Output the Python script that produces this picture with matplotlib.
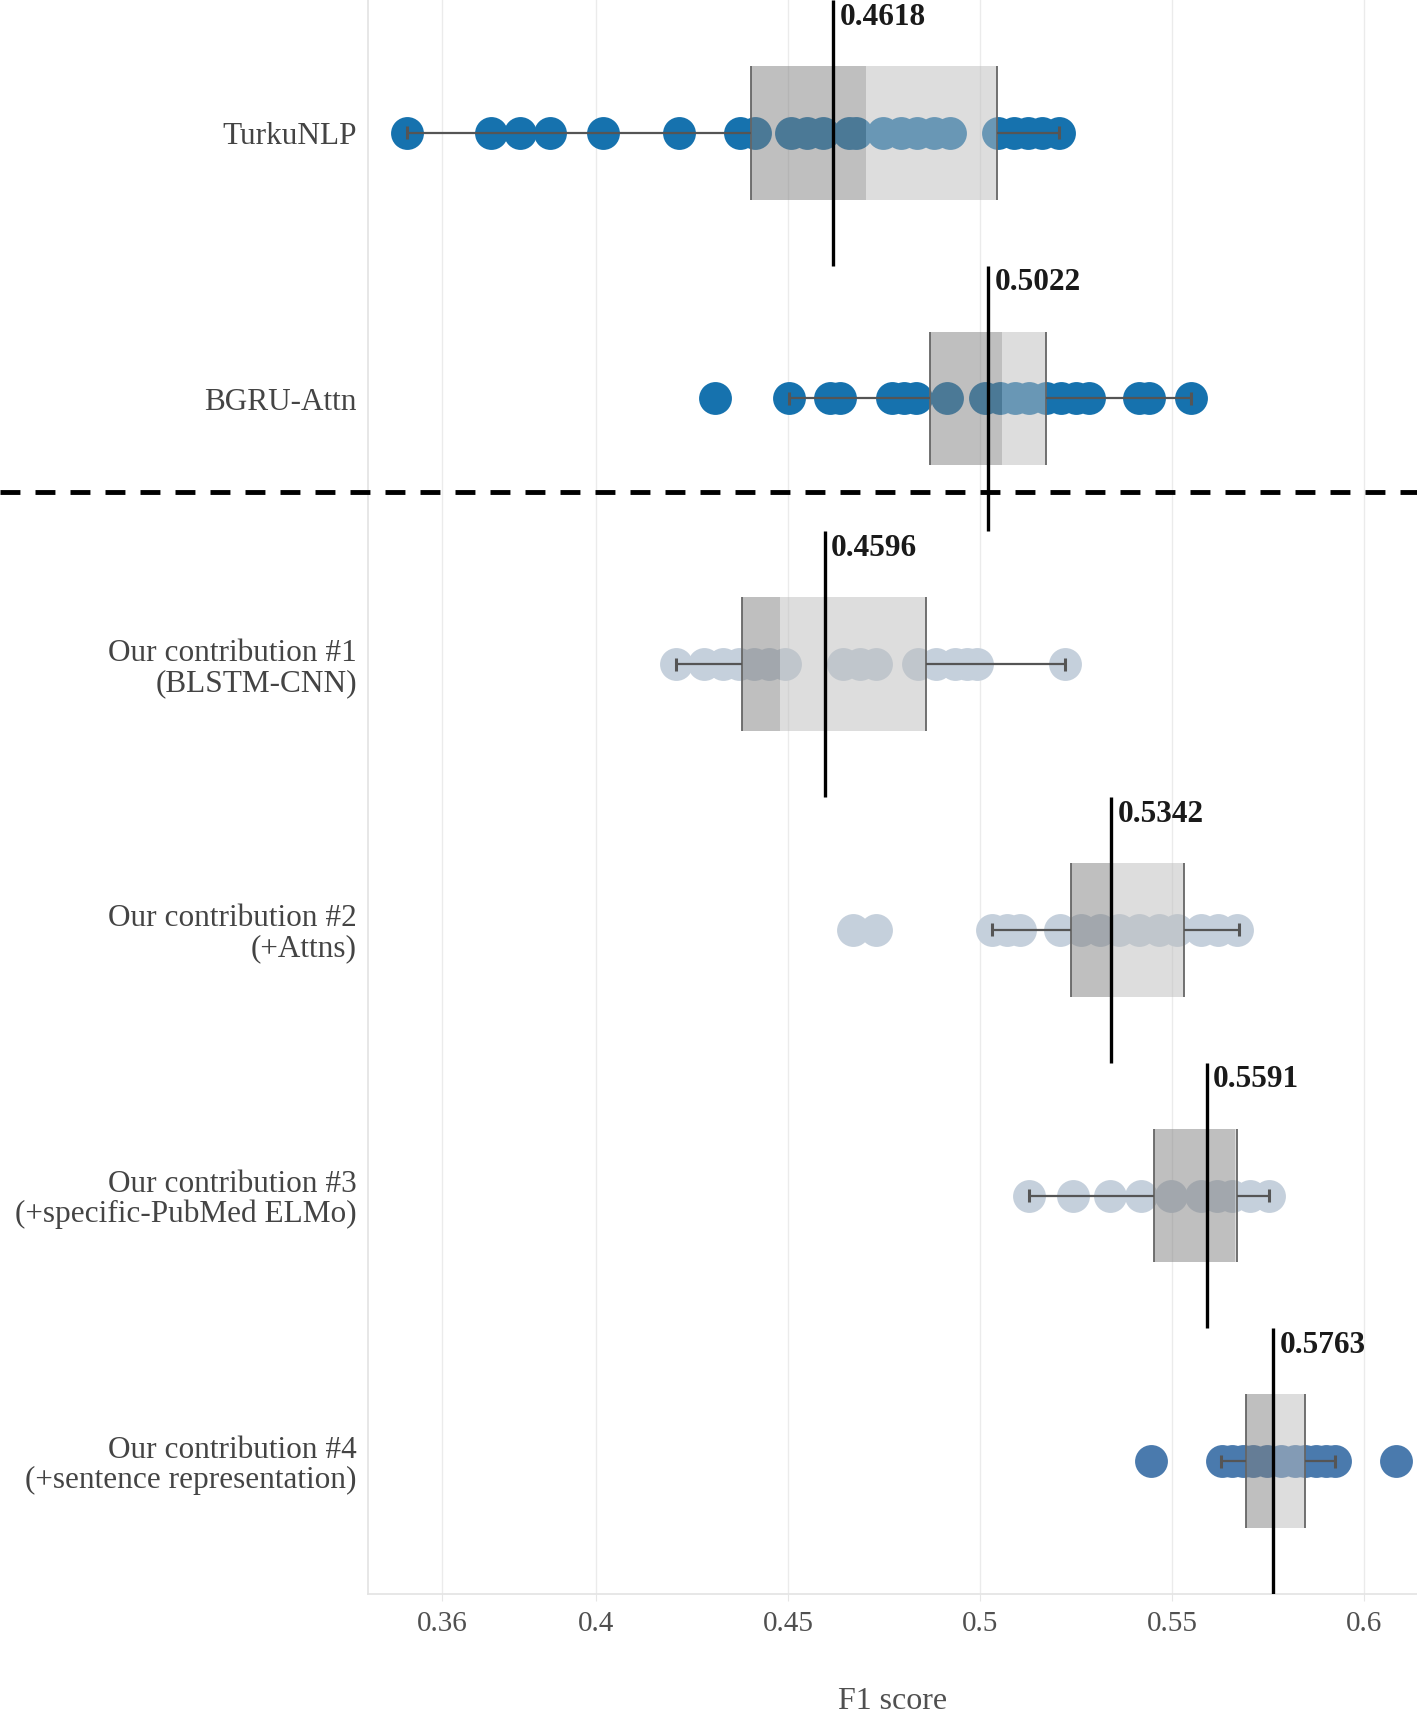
import matplotlib
matplotlib.use("Agg")
import matplotlib.pyplot as plt
from matplotlib.lines import Line2D

# model names (y categories, top to bottom)
models = [
    "TurkuNLP",
    "BGRU-Attn",
    "Our contribution #1\n(BLSTM-CNN)",
    "Our contribution #2\n(+Attns)",
    "Our contribution #3\n(+specific-PubMed ELMo)",
    "Our contribution #4\n(+sentence representation)",
]

# reported F1 (black line + label)
reported = [0.4618, 0.5022, 0.4596, 0.5342, 0.5591, 0.5763]

# individual runs
turku_runs = [0.3507, 0.3727, 0.3801, 0.3881, 0.4017, 0.4216, 0.4374, 0.4415,
              0.4508, 0.4550, 0.4592, 0.4658, 0.4676, 0.4747, 0.4795, 0.4837,
              0.4879, 0.4921, 0.5047, 0.5089, 0.5126, 0.5162, 0.5205]
bgru_runs = [0.4309, 0.4502, 0.4610, 0.4635, 0.4770, 0.4802, 0.4832, 0.4914,
             0.5013, 0.5052, 0.5092, 0.5127, 0.5171, 0.5210, 0.5250, 0.5285,
             0.5413, 0.5439, 0.5550]
blstm_runs = [0.4209, 0.4280, 0.4331, 0.4373, 0.4411, 0.4450, 0.4492, 0.4644,
              0.4687, 0.4730, 0.4839, 0.4886, 0.4934, 0.4965, 0.4991, 0.5220]
attns_runs = [0.4668, 0.4730, 0.5030, 0.5070, 0.5105, 0.5207, 0.5264, 0.5312,
              0.5361, 0.5414, 0.5467, 0.5512, 0.5575, 0.5620, 0.5670]
elmo_runs = [0.5127, 0.5243, 0.5339, 0.5418, 0.5498, 0.5575, 0.5616, 0.5657,
             0.5702, 0.5752]
sent_runs = [0.5445, 0.5629, 0.5657, 0.5684, 0.5711, 0.5747, 0.5784, 0.5820,
             0.5847, 0.5874, 0.5901, 0.5924, 0.6084]
runs = [turku_runs, bgru_runs, blstm_runs, attns_runs, elmo_runs, sent_runs]

# box statistics as drawn in the figure
q1 = [0.4404, 0.4869, 0.4380, 0.5238, 0.5453, 0.5693]
q2 = [0.4703, 0.5057, 0.4479, 0.5345, 0.5664, 0.5766]
q3 = [0.5043, 0.5171, 0.4860, 0.5530, 0.5669, 0.5847]
whisker_lo = [0.3507, 0.4502, 0.4209, 0.5030, 0.5127, 0.5627]
whisker_hi = [0.5205, 0.5550, 0.5220, 0.5675, 0.5752, 0.5924]

point_colors = ["#1672ae", "#1672ae", "#c5d0dc", "#c5d0dc", "#c5d0dc", "#4a7aad"]

xticks = [0.36, 0.4, 0.45, 0.5, 0.55, 0.6]
xtick_labels = ["0.36", "0.4", "0.45", "0.5", "0.55", "0.6"]

plt.rcParams['font.family'] = ['Liberation Serif', 'DejaVu Serif']

W, H = 1417, 1719
fig = plt.figure(figsize=(W / 100, H / 100), dpi=100)
ax = fig.add_axes([368 / W, 1 - 1594 / H, 1 - 368 / W, 1594 / H])

half_box = 0.252
cap = 0.025

for i, vals in enumerate(runs):
    ax.scatter(vals, [i] * len(vals), s=560, color=point_colors[i],
               linewidths=0, zorder=2)

    # box: dark part q1..median, light part median..q3
    ax.fill_betweenx([i - half_box, i + half_box], q1[i], q2[i],
                     color=(0.5, 0.5, 0.5), alpha=0.5, linewidth=0, zorder=3)
    ax.fill_betweenx([i - half_box, i + half_box], q2[i], q3[i],
                     color=(0.74, 0.74, 0.74), alpha=0.5, linewidth=0, zorder=3)
    ax.vlines([q1[i], q3[i]], i - half_box, i + half_box,
              color="#666666", lw=1.3, zorder=4)

    # whiskers
    ax.hlines(i, whisker_lo[i], q1[i], color="#555555", lw=1.6, zorder=4)
    ax.hlines(i, q3[i], whisker_hi[i], color="#555555", lw=1.6, zorder=4)
    ax.vlines([whisker_lo[i], whisker_hi[i]], i - cap, i + cap,
              color="#555555", lw=2.2, zorder=4)

    # reported score
    ax.vlines(reported[i], i - 0.5, i + 0.5, color="black", lw=2.4, zorder=5)
    ax.annotate(f"{reported[i]:.4f}", (reported[i], i - 0.5 + 0.064),
                xytext=(4.5, 0), textcoords="offset points",
                ha="left", va="center", fontsize=22.5, fontweight="bold",
                color="#1a1a1a", zorder=6)

ax.set_xlim(0.3406, 0.6138)
ax.set_ylim(len(models) - 0.5, -0.5)

ax.set_xticks(xticks)
ax.set_xticklabels(xtick_labels, fontsize=21, color="#505050")
ax.set_yticks(range(len(models)))
ax.set_yticklabels(models, fontsize=22.5, color="#444444", linespacing=1.05)
ax.tick_params(axis="y", length=0, pad=8)
ax.tick_params(axis="x", length=5, color="#e6e6e6", pad=7)

ax.set_xlabel("F1 score", fontsize=23, color="#505050", labelpad=36)

ax.grid(axis="x", color="#ebebeb", lw=1.0, zorder=0)
ax.set_axisbelow(True)
for side in ["top", "right"]:
    ax.spines[side].set_visible(False)
for side in ["left", "bottom"]:
    ax.spines[side].set_color("#e3e3e3")
    ax.spines[side].set_linewidth(1.2)

# dashed separator between baselines and our models
sep_y = 1 - 492 / H
fig.add_artist(Line2D([0, 1], [sep_y, sep_y], transform=fig.transFigure,
                      color="black", lw=3.5, dashes=(4.1, 3.1)))

fig.savefig("out.png", dpi=100)
